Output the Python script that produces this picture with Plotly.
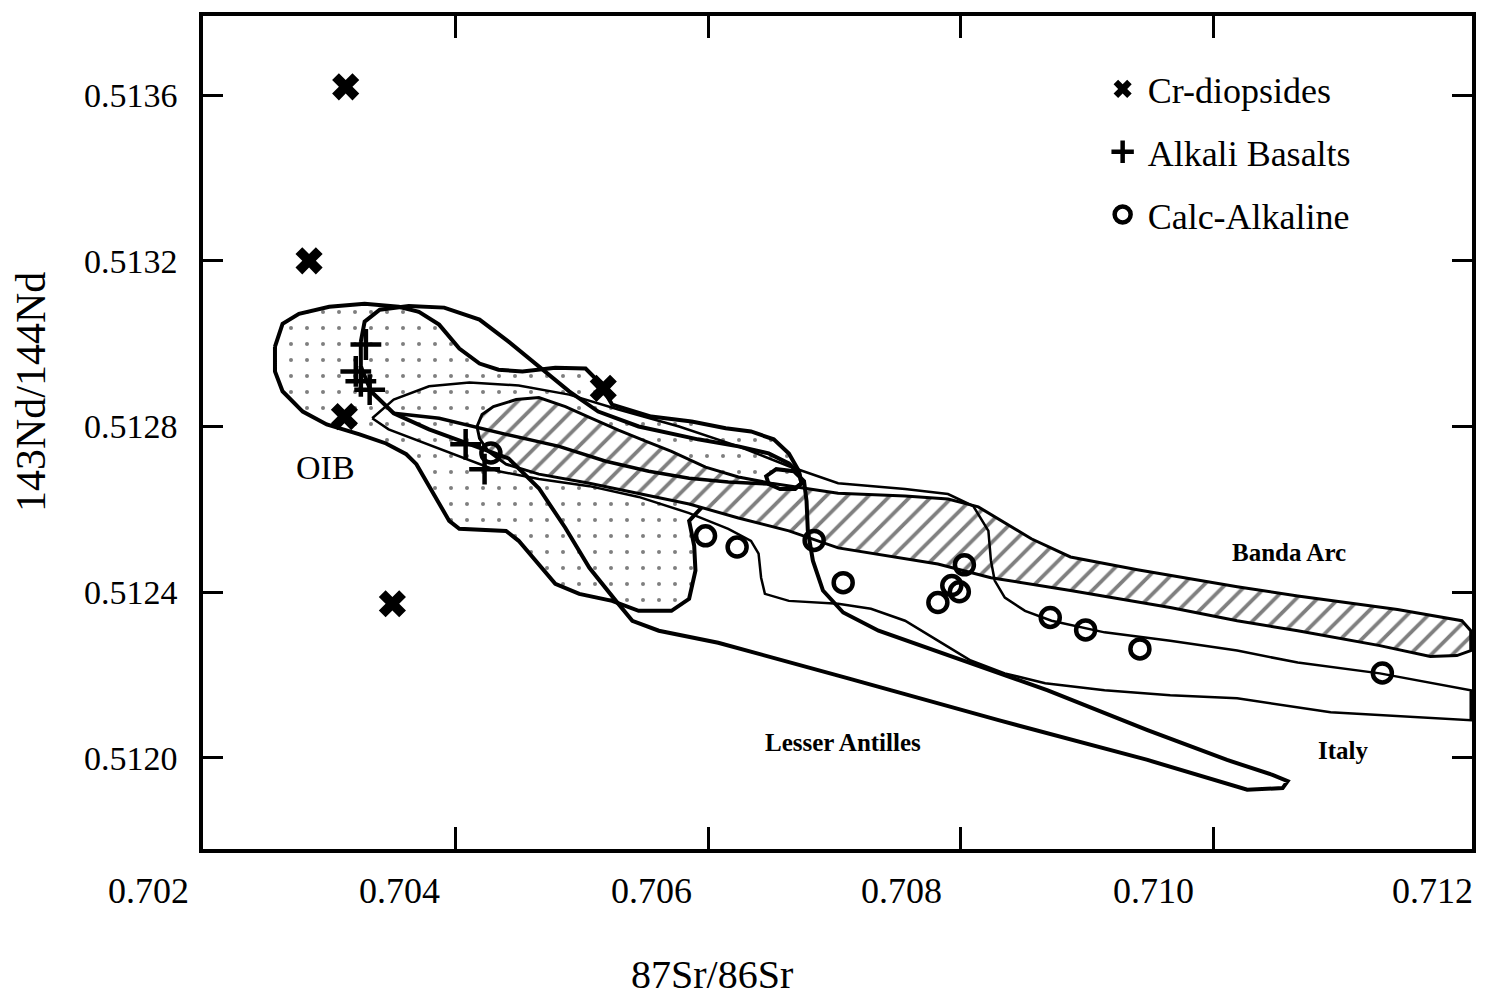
import plotly.graph_objects as go

# ---------------- data ----------------
cr_x = [0.70313, 0.70284, 0.70312, 0.70517, 0.70350]
cr_y = [0.513620, 0.513200, 0.512824, 0.512892, 0.512372]

ab_x = [0.70329, 0.70321, 0.70325, 0.70332, 0.70408, 0.70423]
ab_y = [0.512998, 0.512933, 0.512909, 0.512889, 0.512757, 0.512697]

ca_x = [0.70428, 0.70598, 0.70623, 0.70684, 0.70707, 0.70782, 0.70793, 0.70799,
        0.70803, 0.70871, 0.70899, 0.70942, 0.71134]
ca_y = [0.512736, 0.512536, 0.512509, 0.512525, 0.512423, 0.512375, 0.512416, 0.512401,
        0.512466, 0.512339, 0.512309, 0.512263, 0.512205]

oib_x = [0.70257, 0.70263, 0.70276, 0.70300, 0.70328, 0.70355, 0.70371, 0.70387, 0.70403,
         0.70419, 0.70434, 0.70453, 0.70479, 0.70503, 0.70513, 0.70524, 0.70555, 0.70587,
         0.70614, 0.70634, 0.70652, 0.70664, 0.70672, 0.70674, 0.70668, 0.70648, 0.70624,
         0.70596, 0.70585, 0.70589, 0.70590, 0.70585, 0.70571, 0.70545, 0.70524, 0.70498,
         0.70479, 0.70466, 0.70450, 0.70440, 0.70403, 0.70395, 0.70387, 0.70377, 0.70369,
         0.70361, 0.70345, 0.70324, 0.70298, 0.70279, 0.70263, 0.70257, 0.70257]
oib_y = [0.512993, 0.513048, 0.513072, 0.513089, 0.513096, 0.513089, 0.513077, 0.513046,
         0.512988, 0.512952, 0.512937, 0.512933, 0.512942, 0.512940, 0.512909, 0.512853,
         0.512824, 0.512812, 0.512796, 0.512788, 0.512769, 0.512735, 0.512692, 0.512663,
         0.512649, 0.512654, 0.512644, 0.512608, 0.512572, 0.512512, 0.512452, 0.512384,
         0.512355, 0.512355, 0.512379, 0.512396, 0.512420, 0.512468, 0.512524, 0.512548,
         0.512553, 0.512572, 0.512613, 0.512668, 0.512709, 0.512733, 0.512759, 0.512781,
         0.512805, 0.512836, 0.512885, 0.512933, 0.512993]

banda_x = [0.70417, 0.70421, 0.70430, 0.70448, 0.70466, 0.70487, 0.70506, 0.70529, 0.70551,
           0.70571, 0.70598, 0.70624, 0.70650, 0.70677, 0.70703, 0.70756, 0.70790, 0.70814,
           0.70835, 0.70856, 0.70887, 0.70940, 0.71019, 0.71067, 0.71146, 0.71197, 0.71204,
           0.71204, 0.71193, 0.71172, 0.71132, 0.71067, 0.71019, 0.70966, 0.70887, 0.70824,
           0.70782, 0.70703, 0.70664, 0.70624, 0.70585, 0.70545, 0.70506, 0.70466, 0.70440,
           0.70426, 0.70419, 0.70417]
banda_y = [0.512800, 0.512829, 0.512848, 0.512865, 0.512870, 0.512848, 0.512822, 0.512791,
           0.512764, 0.512740, 0.512702, 0.512678, 0.512663, 0.512651, 0.512639, 0.512632,
           0.512625, 0.512606, 0.512567, 0.512529, 0.512485, 0.512454, 0.512413, 0.512391,
           0.512358, 0.512331, 0.512307, 0.512259, 0.512247, 0.512245, 0.512271, 0.512307,
           0.512331, 0.512363, 0.512404, 0.512435, 0.512468, 0.512507, 0.512548, 0.512579,
           0.512613, 0.512639, 0.512663, 0.512685, 0.512709, 0.512740, 0.512771, 0.512800]

la_x = [0.70325, 0.70328, 0.70340, 0.70363, 0.70391, 0.70419, 0.70442, 0.70466, 0.70490,
        0.70513, 0.70545, 0.70592, 0.70624, 0.70648, 0.70664, 0.70672, 0.70674, 0.70669,
        0.70657, 0.70648, 0.70646, 0.70654, 0.70668, 0.70676, 0.70678, 0.70679,
        0.70683, 0.70691, 0.70707, 0.70735, 0.70790, 0.70869, 0.70948, 0.71011, 0.71047,
        0.71059, 0.71055, 0.71027, 0.70948, 0.70830, 0.70711, 0.70608, 0.70561, 0.70540,
        0.70527, 0.70506, 0.70487, 0.70466, 0.70442, 0.70411, 0.70379, 0.70351, 0.70333,
        0.70325, 0.70325]
la_y = [0.513005, 0.513053, 0.513082, 0.513091, 0.513087, 0.513058, 0.513005, 0.512945,
        0.512885, 0.512836, 0.512800, 0.512769, 0.512752, 0.512735, 0.512711, 0.512687,
        0.512663, 0.512649, 0.512649, 0.512661, 0.512680, 0.512697, 0.512692, 0.512668,
        0.512620, 0.512548, 0.512476, 0.512404, 0.512351, 0.512307, 0.512247, 0.512163,
        0.512067, 0.511995, 0.511959, 0.511944, 0.511927, 0.511923, 0.511995, 0.512091,
        0.512192, 0.512278, 0.512307, 0.512331, 0.512379, 0.512459, 0.512555, 0.512651,
        0.512723, 0.512757, 0.512793, 0.512832, 0.512885, 0.512945, 0.513005]

# inner boundary of the Lesser Antilles field running through the Banda Arc band
la_inner_x = [0.70351, 0.70387, 0.70440, 0.70482, 0.70519, 0.70553, 0.70585, 0.70616, 0.70648]
la_inner_y = [0.512832, 0.512820, 0.512781, 0.512752, 0.512716, 0.512692, 0.512675,
              0.512666, 0.512661]

it_x = [0.70334, 0.70351, 0.70379, 0.70411, 0.70450, 0.70490, 0.70529, 0.70577, 0.70624,
        0.70664, 0.70703, 0.70756, 0.70790, 0.70810, 0.70822, 0.70824, 0.70827, 0.70835,
        0.70851, 0.70872, 0.70914, 0.70966, 0.71019, 0.71067, 0.71132, 0.71204, 0.71204,
        0.71093, 0.71019, 0.70966, 0.70914, 0.70867, 0.70835, 0.70808, 0.70782, 0.70756,
        0.70729, 0.70703, 0.70664, 0.70645, 0.70642, 0.70640, 0.70634, 0.70616, 0.70585,
        0.70545, 0.70506, 0.70466, 0.70434, 0.70403, 0.70371, 0.70347, 0.70334]
it_y = [0.512820, 0.512865, 0.512897, 0.512906, 0.512899, 0.512877, 0.512841, 0.512800,
        0.512752, 0.512704, 0.512663, 0.512649, 0.512637, 0.512608, 0.512548, 0.512476,
        0.512428, 0.512387, 0.512355, 0.512331, 0.512303, 0.512283, 0.512259, 0.512230,
        0.512204, 0.512163, 0.512091, 0.512110, 0.512144, 0.512151, 0.512163, 0.512180,
        0.512204, 0.512235, 0.512283, 0.512331, 0.512360, 0.512372, 0.512379, 0.512396,
        0.512435, 0.512493, 0.512524, 0.512553, 0.512591, 0.512630, 0.512656, 0.512673,
        0.512692, 0.512728, 0.512764, 0.512793, 0.512820]

x_ticks = [0.702, 0.704, 0.706, 0.708, 0.710, 0.712]
x_tick_text = ["0.702", "0.704", "0.706", "0.708", "0.710", "0.712"]
y_ticks = [0.5120, 0.5124, 0.5128, 0.5132, 0.5136]
y_tick_text = ["0.5120", "0.5124", "0.5128", "0.5132", "0.5136"]

field_labels = ["OIB", "Banda Arc", "Lesser Antilles", "Italy"]
field_label_x = [0.70297, 0.71060, 0.70707, 0.71103]
field_label_y = [0.512702, 0.512497, 0.512038, 0.512019]

# ---------------- figure ----------------
SERIF = "Liberation Serif, Times New Roman, serif"
fig = go.Figure()

# OIB field: dotted fill with thick outline (drawn first, partly hidden by Banda Arc)
fig.add_trace(go.Scatter(x=oib_x, y=oib_y, mode="lines", fill="toself",
                         line=dict(color="black", width=4),
                         fillpattern=dict(shape=".", fgcolor="black", bgcolor="white",
                                          size=16, solidity=0.05),
                         showlegend=False, hoverinfo="skip"))
# Banda Arc field: hatched
fig.add_trace(go.Scatter(x=banda_x, y=banda_y, mode="lines", fill="toself",
                         line=dict(color="black", width=3),
                         fillpattern=dict(shape="/", fgcolor="black", bgcolor="white",
                                          size=15, solidity=0.25),
                         showlegend=False, hoverinfo="skip"))
# Lesser Antilles outline
fig.add_trace(go.Scatter(x=la_x, y=la_y, mode="lines",
                         line=dict(color="black", width=4),
                         showlegend=False, hoverinfo="skip"))
fig.add_trace(go.Scatter(x=la_inner_x, y=la_inner_y, mode="lines",
                         line=dict(color="black", width=3.5),
                         showlegend=False, hoverinfo="skip"))
# Italy outline
fig.add_trace(go.Scatter(x=it_x, y=it_y, mode="lines",
                         line=dict(color="black", width=2.5),
                         showlegend=False, hoverinfo="skip"))

fig.add_trace(go.Scatter(x=cr_x, y=cr_y, mode="markers", name="Cr-diopsides",
                         legendgroup="a",
                         marker=dict(symbol="x", size=24, color="black",
                                     line=dict(width=0))))
fig.add_trace(go.Scatter(x=ab_x, y=ab_y, mode="markers", name="Alkali Basalts",
                         legendgroup="b",
                         marker=dict(symbol="cross-thin", size=22, color="black",
                                     line=dict(width=4.5, color="black"))))
fig.add_trace(go.Scatter(x=ca_x, y=ca_y, mode="markers", name="Calc-Alkaline",
                         legendgroup="c",
                         marker=dict(symbol="circle-open", size=19, color="black",
                                     line=dict(width=4.5, color="black"))))

for t, lx, ly in zip(field_labels, field_label_x, field_label_y):
    if t == "OIB":
        txt, sz = t, 34
    else:
        txt, sz = "<b>" + t + "</b>", 25
    fig.add_annotation(x=lx, y=ly, xref="x", yref="y", text=txt, showarrow=False,
                       font=dict(family=SERIF, size=sz, color="black"))

x_label_shift = [-55, -56, -57, -59, -60, -33]
for v, t, s in zip(x_ticks, x_tick_text, x_label_shift):
    fig.add_annotation(x=v, y=-0.050, xref="x", yref="paper", text=t, showarrow=False,
                       xshift=s, yanchor="middle",
                       font=dict(family=SERIF, size=36, color="black"))

fig.add_annotation(x=0.401, y=-0.151, xref="paper", yref="paper", text="87Sr/86Sr",
                   showarrow=False, yanchor="middle",
                   font=dict(family=SERIF, size=40, color="black"))
fig.add_annotation(x=-0.136, y=0.549, xref="paper", yref="paper", text="143Nd/144Nd",
                   showarrow=False, textangle=-90, xanchor="center", yanchor="middle",
                   font=dict(family=SERIF, size=42, color="black"))

fig.update_layout(
    width=1488, height=1005,
    margin=dict(l=203, r=13, t=13, b=156),
    paper_bgcolor="white", plot_bgcolor="white",
    showlegend=True,
    legend=dict(x=0.705, y=0.9484, xanchor="left", yanchor="top", itemwidth=40,
                bgcolor="rgba(0,0,0,0)", traceorder="grouped", tracegroupgap=13,
                font=dict(family=SERIF, size=36, color="black")),
    xaxis=dict(range=[0.702, 0.71205], showgrid=False, zeroline=False,
               showline=True, linecolor="black", linewidth=3.5, mirror="ticks",
               ticks="inside", ticklen=22, tickwidth=3, tickcolor="black",
               tickvals=x_ticks[1:5], showticklabels=False),
    yaxis=dict(range=[0.51178, 0.513791], showgrid=False, zeroline=False,
               showline=True, linecolor="black", linewidth=3.5, mirror="ticks",
               ticks="inside", ticklen=20, tickwidth=3, tickcolor="black",
               tickvals=y_ticks, ticktext=y_tick_text, ticklabelstandoff=15,
               tickfont=dict(family=SERIF, size=34, color="black")),
)

fig.write_html("out.html")
